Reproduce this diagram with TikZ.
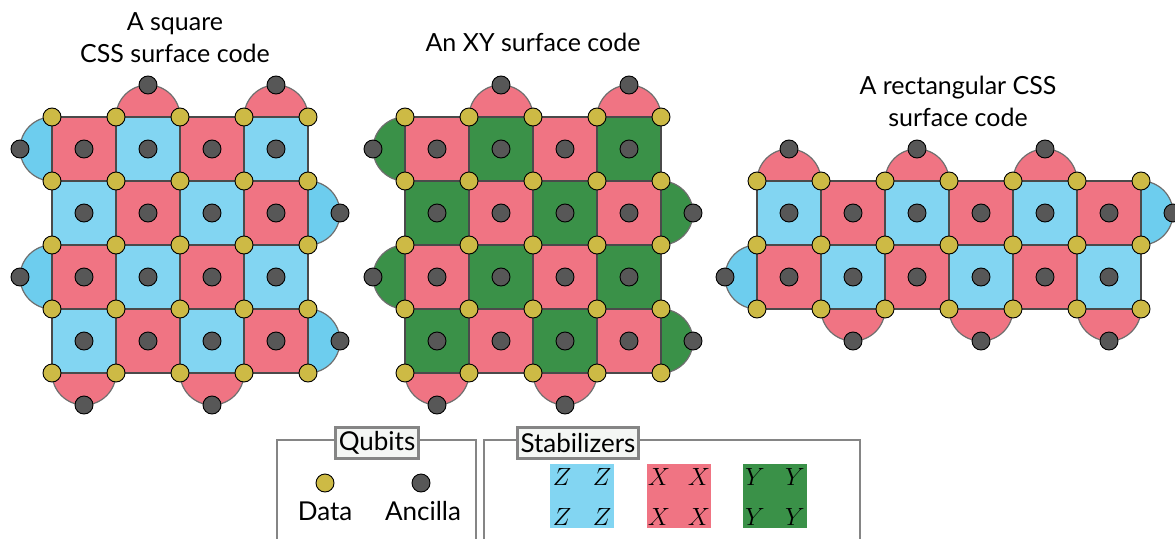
\documentclass[tikz,border=0pt]{standalone}
\usepackage{fontspec}
\setmainfont{Lato}
\definecolor{xred}{HTML}{F07483}
\definecolor{zblue}{HTML}{82D5F2}
\definecolor{zblueb}{HTML}{6DCDEE}
\definecolor{ygreen}{HTML}{3A9148}
\definecolor{dataY}{HTML}{CDBA45}
\definecolor{ancG}{HTML}{575757}
\definecolor{cellline}{HTML}{4A4A4A}
\definecolor{arcline}{HTML}{6E6E6E}
\definecolor{frameG}{HTML}{858585}
\definecolor{labelbg}{HTML}{F4F6F4}
\tikzset{
  cell/.style={draw=cellline, line width=1.6pt},
  half/.style={draw=arcline, line width=1.2pt},
  dq/.style={circle, draw=black, line width=0.9pt, fill=dataY, minimum size=18pt, inner sep=0pt},
  aq/.style={circle, draw=black, line width=0.9pt, fill=ancG, minimum size=18pt, inner sep=0pt},
  title/.style={font=\fontsize{25}{32}\selectfont, align=center},
  frame/.style={draw=frameG, line width=2.6pt},
  flabel/.style={draw=frameG, line width=2.6pt, fill=labelbg, font=\fontsize{26}{28}\selectfont, inner xsep=3pt, inner ysep=0pt, minimum height=31pt},
  legtext/.style={font=\fontsize{26}{28}\selectfont},
  op/.style={font=\fontsize{24}{24}\selectfont},
}
\begin{document}
\begin{tikzpicture}[x=1pt,y=1pt]
\useasboundingbox (0,0) rectangle (1175,-538);
% ---------------- Code 1: square CSS ----------------
\foreach \c in {1,3} \filldraw[half, fill=xred] (52+64*\c,-117) arc[start angle=180,end angle=0,radius=32] -- cycle;
\foreach \c in {0,2} \filldraw[half, fill=xred] (52+64*\c,-373) arc[start angle=180,end angle=360,radius=32] -- cycle;
\foreach \r in {0,2} \filldraw[half, fill=zblueb] (52,-117-64*\r) arc[start angle=90,end angle=270,radius=32] -- cycle;
\foreach \r in {1,3} \filldraw[half, fill=zblueb] (308,-117-64*\r) arc[start angle=90,end angle=-90,radius=32] -- cycle;
\foreach \i in {0,...,3} \foreach \j in {0,...,3} {
  \pgfmathtruncatemacro\cc{mod(\i+\j,2)}
  \ifnum\cc=0 \def\col{xred}\else\def\col{zblue}\fi
  \filldraw[cell, fill=\col] (52+64*\i,-117-64*\j) rectangle ++(64,-64);
}
\foreach \i in {0,...,3} \foreach \j in {0,...,3} \node[aq] (a1-\i-\j) at (84+64*\i,-149-64*\j) {};
\foreach \c in {1,3} \node[aq] (a1t\c) at (84+64*\c,-85) {};
\foreach \c in {0,2} \node[aq] (a1b\c) at (84+64*\c,-405) {};
\foreach \r in {0,2} \node[aq] (a1l\r) at (20,-149-64*\r) {};
\foreach \r in {1,3} \node[aq] (a1r\r) at (340,-149-64*\r) {};
\foreach \i in {0,...,4} \foreach \j in {0,...,4} \node[dq] (d1-\i-\j) at (52+64*\i,-117-64*\j) {};
\node[title] (t1) at (175,-38) {A square\\CSS surface code};
% ---------------- Code 2: XY ----------------
\foreach \c in {1,3} \filldraw[half, fill=xred] (405+64*\c,-117) arc[start angle=180,end angle=0,radius=32] -- cycle;
\foreach \c in {0,2} \filldraw[half, fill=xred] (405+64*\c,-373) arc[start angle=180,end angle=360,radius=32] -- cycle;
\foreach \r in {0,2} \filldraw[half, fill=ygreen] (405,-117-64*\r) arc[start angle=90,end angle=270,radius=32] -- cycle;
\foreach \r in {1,3} \filldraw[half, fill=ygreen] (661,-117-64*\r) arc[start angle=90,end angle=-90,radius=32] -- cycle;
\foreach \i in {0,...,3} \foreach \j in {0,...,3} {
  \pgfmathtruncatemacro\cc{mod(\i+\j,2)}
  \ifnum\cc=0 \def\col{xred}\else\def\col{ygreen}\fi
  \filldraw[cell, fill=\col] (405+64*\i,-117-64*\j) rectangle ++(64,-64);
}
\foreach \i in {0,...,3} \foreach \j in {0,...,3} \node[aq] (a2-\i-\j) at (437+64*\i,-149-64*\j) {};
\foreach \c in {1,3} \node[aq] (a2t\c) at (437+64*\c,-85) {};
\foreach \c in {0,2} \node[aq] (a2b\c) at (437+64*\c,-405) {};
\foreach \r in {0,2} \node[aq] (a2l\r) at (373,-149-64*\r) {};
\foreach \r in {1,3} \node[aq] (a2r\r) at (693,-149-64*\r) {};
\foreach \i in {0,...,4} \foreach \j in {0,...,4} \node[dq] (d2-\i-\j) at (405+64*\i,-117-64*\j) {};
\node[title] (t2) at (533,-42) {An XY surface code};
% ---------------- Code 3: rectangular CSS ----------------
\foreach \c in {0,2,4} \filldraw[half, fill=xred] (757+64*\c,-181) arc[start angle=180,end angle=0,radius=32] -- cycle;
\foreach \c in {1,3,5} \filldraw[half, fill=xred] (757+64*\c,-309) arc[start angle=180,end angle=360,radius=32] -- cycle;
\filldraw[half, fill=zblueb] (757,-245) arc[start angle=90,end angle=270,radius=32] -- cycle;
\filldraw[half, fill=zblueb] (1141,-181) arc[start angle=90,end angle=-90,radius=32] -- cycle;
\foreach \i in {0,...,5} \foreach \j in {0,1} {
  \pgfmathtruncatemacro\cc{mod(\i+\j,2)}
  \ifnum\cc=0 \def\col{zblue}\else\def\col{xred}\fi
  \filldraw[cell, fill=\col] (757+64*\i,-181-64*\j) rectangle ++(64,-64);
}
\foreach \i in {0,...,5} \foreach \j in {0,1} \node[aq] (a3-\i-\j) at (789+64*\i,-213-64*\j) {};
\foreach \c in {0,2,4} \node[aq] (a3t\c) at (789+64*\c,-149) {};
\foreach \c in {1,3,5} \node[aq] (a3b\c) at (789+64*\c,-341) {};
\node[aq] (a3l) at (725,-277) {};
\node[aq] (a3r) at (1173,-213) {};
\foreach \i in {0,...,6} \foreach \j in {0,1,2} \node[dq] (d3-\i-\j) at (757+64*\i,-181-64*\j) {};
\node[title] (t3) at (958,-101) {A rectangular CSS\\surface code};
% ---------------- Legend ----------------
\draw[frame] (277,-541) -- (277,-440) -- (476,-440) -- (476,-541);
\draw[frame] (484,-541) -- (484,-440) -- (860,-440) -- (860,-541);
\node[flabel] (lq) at (377,-443) {Qubits};
\node[flabel] (ls) at (578,-443) {Stabilizers};
\node[dq] (ldata) at (325,-483) {};
\node[aq] (lanc) at (421,-483) {};
\node[legtext] (tdata) at (325,-511) {Data};
\node[legtext] (tanc) at (423,-511) {Ancilla};
\fill[zblue] (550,-464) rectangle (614,-528);
\fill[xred] (647,-464) rectangle (711,-528);
\fill[ygreen] (743,-464) rectangle (807,-528);
\foreach \x/\L in {550/Z,647/X,743/Y} {
  \node[op] at (\x+12,-477) {$\L$};
  \node[op] at (\x+52,-477) {$\L$};
  \node[op] at (\x+12,-517) {$\L$};
  \node[op] at (\x+52,-517) {$\L$};
}
\end{tikzpicture}
\end{document}
